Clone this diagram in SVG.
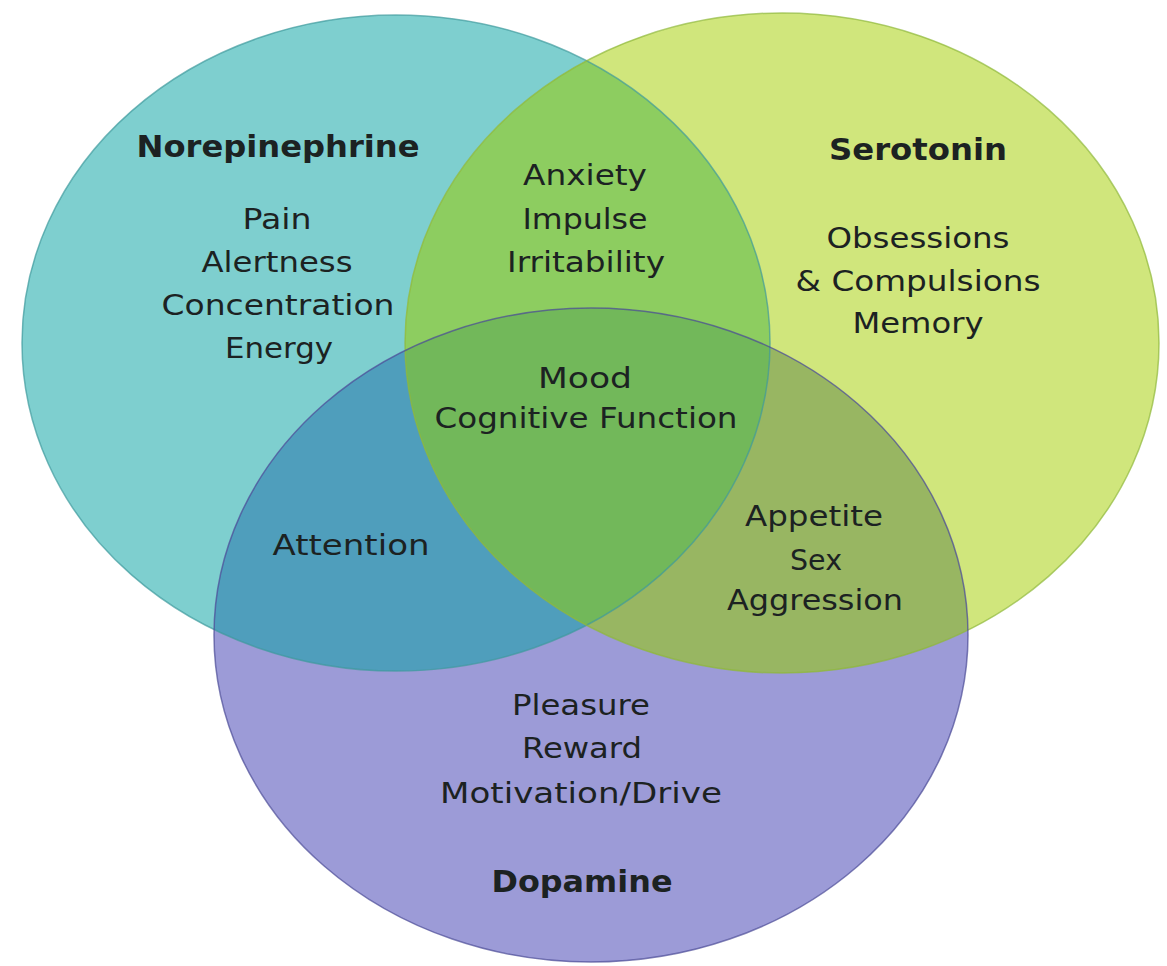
<svg xmlns="http://www.w3.org/2000/svg" width="1167" height="966" viewBox="0 0 1167 966">
<style>
.lbl{font-family:"DejaVu Sans","Liberation Sans",sans-serif;font-size:29px;fill:#1c2222;text-anchor:middle}
.ttl{font-weight:bold;font-size:31px}
.edge{fill:none;stroke-width:1.5}
</style>
<defs>
<clipPath id="clipNE"><ellipse cx="396" cy="343" rx="374" ry="328"/></clipPath>
<clipPath id="clipSer"><ellipse cx="782" cy="343" rx="377" ry="330"/></clipPath>
</defs>
<rect width="1167" height="966" fill="#ffffff"/>
<g id="circles">
<g id="norepinephrine-circle"><ellipse cx="396" cy="343" rx="374" ry="328" fill="#7ecfcf"/></g>
<g id="serotonin-circle"><ellipse cx="782" cy="343" rx="377" ry="330" fill="#d0e67c"/></g>
<g id="dopamine-circle"><ellipse cx="591" cy="635" rx="377" ry="327" fill="#9c9bd7"/></g>
<g id="ne-ser"><ellipse cx="782" cy="343" rx="377" ry="330" fill="#8dcd60" clip-path="url(#clipNE)"/></g>
<g id="ne-dop"><ellipse cx="591" cy="635" rx="377" ry="327" fill="#4f9ebc" clip-path="url(#clipNE)"/></g>
<g id="ser-dop"><ellipse cx="591" cy="635" rx="377" ry="327" fill="#98b662" clip-path="url(#clipSer)"/></g>
<g id="center" clip-path="url(#clipNE)"><ellipse cx="591" cy="635" rx="377" ry="327" fill="#72b85a" clip-path="url(#clipSer)"/></g>
<ellipse class="edge" cx="396" cy="343" rx="374" ry="328" stroke="#3e9a9c" stroke-opacity="0.7"/>
<ellipse class="edge" cx="782" cy="343" rx="377" ry="330" stroke="#8fb83a" stroke-opacity="0.7"/>
<ellipse class="edge" cx="591" cy="635" rx="377" ry="327" stroke="#4a4a96" stroke-opacity="0.7"/>
</g>
<g id="label-norepinephrine">
<text class="lbl ttl" x="278" y="157" textLength="283" lengthAdjust="spacingAndGlyphs">Norepinephrine</text>
<text class="lbl" x="277" y="229" textLength="69" lengthAdjust="spacingAndGlyphs">Pain</text>
<text class="lbl" x="277" y="272" textLength="151" lengthAdjust="spacingAndGlyphs">Alertness</text>
<text class="lbl" x="278" y="315" textLength="233" lengthAdjust="spacingAndGlyphs">Concentration</text>
<text class="lbl" x="279" y="358" textLength="108" lengthAdjust="spacingAndGlyphs">Energy</text>
</g>
<g id="label-ne-ser">
<text class="lbl" x="585" y="185" textLength="124" lengthAdjust="spacingAndGlyphs">Anxiety</text>
<text class="lbl" x="585" y="229" textLength="125" lengthAdjust="spacingAndGlyphs">Impulse</text>
<text class="lbl" x="586" y="272" textLength="158" lengthAdjust="spacingAndGlyphs">Irritability</text>
</g>
<g id="label-serotonin">
<text class="lbl ttl" x="918" y="160" textLength="178" lengthAdjust="spacingAndGlyphs">Serotonin</text>
<text class="lbl" x="918" y="248" textLength="183" lengthAdjust="spacingAndGlyphs">Obsessions</text>
<text class="lbl" x="918" y="291" textLength="245" lengthAdjust="spacingAndGlyphs">&amp; Compulsions</text>
<text class="lbl" x="918" y="333" textLength="131" lengthAdjust="spacingAndGlyphs">Memory</text>
</g>
<g id="label-center">
<text class="lbl" x="585" y="388" textLength="94" lengthAdjust="spacingAndGlyphs">Mood</text>
<text class="lbl" x="586" y="428" textLength="303" lengthAdjust="spacingAndGlyphs">Cognitive Function</text>
</g>
<g id="label-ne-dop">
<text class="lbl" x="351" y="555" textLength="157" lengthAdjust="spacingAndGlyphs">Attention</text>
</g>
<g id="label-ser-dop">
<text class="lbl" x="814" y="526" textLength="138" lengthAdjust="spacingAndGlyphs">Appetite</text>
<text class="lbl" x="816" y="570" textLength="52" lengthAdjust="spacingAndGlyphs">Sex</text>
<text class="lbl" x="815" y="610" textLength="176" lengthAdjust="spacingAndGlyphs">Aggression</text>
</g>
<g id="label-dopamine">
<text class="lbl" x="581" y="715" textLength="138" lengthAdjust="spacingAndGlyphs">Pleasure</text>
<text class="lbl" x="582" y="758" textLength="120" lengthAdjust="spacingAndGlyphs">Reward</text>
<text class="lbl" x="581" y="803" textLength="282" lengthAdjust="spacingAndGlyphs">Motivation/Drive</text>
<text class="lbl ttl" x="582" y="892" textLength="181" lengthAdjust="spacingAndGlyphs">Dopamine</text>
</g>
</svg>
